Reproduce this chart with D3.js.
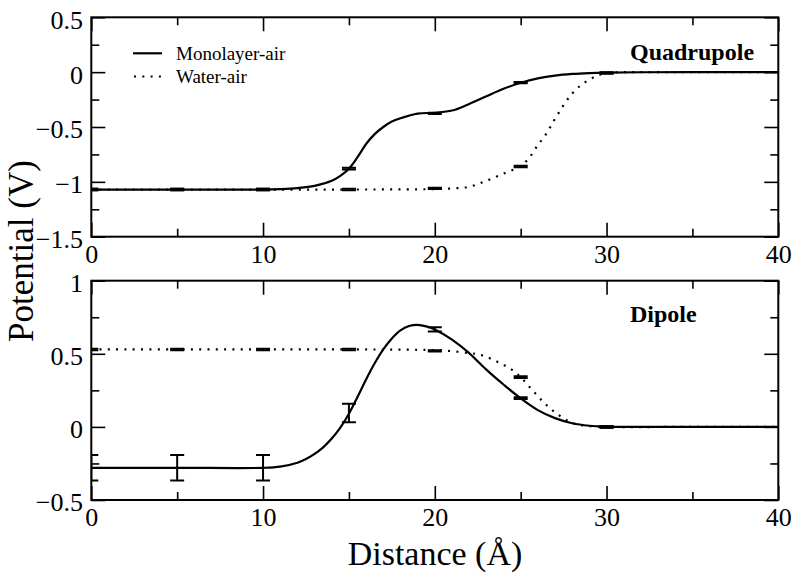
<!DOCTYPE html>
<html><head><meta charset="utf-8">
<script src="https://cdn.jsdelivr.net/npm/d3@7"></script>
<style>body{margin:0;background:#fff}svg{display:block}text{font-family:"Liberation Serif","Times New Roman",serif;fill:#000}</style>
</head><body><svg id="c" width="800" height="580"></svg>
<script>
// ---- data ----
const xTicks = [0, 10, 20, 30, 40];
const quadYTicks = [0.5, 0, -0.5, -1, -1.5];
const dipYTicks = [1, 0.5, 0, -0.5];
const seriesNames = ["Monolayer-air", "Water-air"];
const panelTitles = ["Quadrupole", "Dipole"];

const quadMonoX = [0,5,10,11,12,13,14,14.5,15,15.5,16,16.5,17,17.5,18,19,20,21,22,23,24,25,26,27,28,29,30,32,35,40];
const quadMonoY = [-1.07,-1.07,-1.07,-1.066,-1.057,-1.037,-0.99,-0.945,-0.88,-0.775,-0.655,-0.565,-0.50,-0.45,-0.42,-0.378,-0.37,-0.35,-0.29,-0.22,-0.152,-0.097,-0.057,-0.031,-0.016,-0.008,-0.004,-0.001,0,0];
const quadWaterX = [0,5,10,15,20,21,22,23,24,25,25.5,26,26.5,27,27.5,28,28.5,29,29.5,30,32,35,40];
const quadWaterY = [-1.07,-1.07,-1.07,-1.07,-1.066,-1.06,-1.045,-0.99,-0.925,-0.855,-0.78,-0.665,-0.56,-0.425,-0.30,-0.195,-0.12,-0.068,-0.03,-0.008,0,0,0];

const dipMonoX = [0,5,10,11,12,12.5,13,13.5,14,14.5,15,15.5,16,16.5,17,17.5,18,18.5,19,19.5,20,21,22,23,24,25,26,27,28,29,30,35,40];
const dipMonoY = [-0.28,-0.28,-0.28,-0.272,-0.245,-0.22,-0.185,-0.14,-0.08,-0.005,0.09,0.205,0.325,0.435,0.53,0.605,0.66,0.69,0.698,0.688,0.667,0.597,0.505,0.392,0.29,0.195,0.115,0.06,0.025,0.008,0.002,0,0];
const dipWaterX = [0,5,10,15,20,21,22,22.5,23,23.5,24,24.5,25,25.5,26,26.5,27,27.5,28,28.5,29,30,35,40];
const dipWaterY = [0.53,0.53,0.53,0.53,0.525,0.518,0.505,0.497,0.48,0.453,0.425,0.39,0.34,0.275,0.21,0.15,0.10,0.058,0.027,0.012,0.005,0,0,0];

const errX = [0,5,10,15,20,25,30];
const quadMonoErrY = [-1.07,-1.07,-1.07,-0.88,-0.375,-0.095,-0.005];
const quadMonoErr  = [0.006,0.006,0.006,0.008,0.006,0.006,0.005];
const quadWaterErrY = [-1.07,-1.07,-1.07,-1.07,-1.06,-0.86,-0.01];
const quadWaterErr  = [0.006,0.006,0.006,0.006,0.006,0.006,0.005];
const dipMonoErrY = [-0.28,-0.28,-0.28,0.095,0.667,0.196,0.0];
const dipMonoErr  = [0.087,0.087,0.087,0.063,0.014,0.006,0.005];
const dipWaterErrY = [0.53,0.53,0.53,0.53,0.52,0.34,0.0];
const dipWaterErr  = [0.005,0.005,0.005,0.005,0.005,0.006,0.005];

// ---- drawing ----
const FONT = '"Liberation Serif", "Times New Roman", serif';
const svg = d3.select("#c");
const L = 91.3, R = 778.3;
const x = d3.scaleLinear().domain([0, 40]).range([L, R]);

const panels = [
  {top: 17.3, bottom: 236.7, domain: [-1.5, 0.5], yTicks: quadYTicks, minor: d3.range(-1.5, 0.51, 0.25),
   mono: [quadMonoX, quadMonoY], water: [quadWaterX, quadWaterY],
   monoErr: [quadMonoErrY, quadMonoErr], waterErr: [quadWaterErrY, quadWaterErr],
   title: panelTitles[0], titleY: 60, legend: true},
  {top: 280.7, bottom: 500, domain: [-0.5, 1], yTicks: dipYTicks, minor: d3.range(-0.5, 1.01, 0.25),
   mono: [dipMonoX, dipMonoY], water: [dipWaterX, dipWaterY],
   monoErr: [dipMonoErrY, dipMonoErr], waterErr: [dipWaterErrY, dipWaterErr],
   title: panelTitles[1], titleY: 321.5, legend: false}
];

const minorX = [5, 15, 25, 35];

panels.forEach((p, i) => {
  const y = d3.scaleLinear().domain(p.domain).range([p.bottom, p.top]);
  const g = svg.append("g");
  const clipId = "clip" + i;
  svg.append("clipPath").attr("id", clipId).append("rect")
    .attr("x", L).attr("y", p.top).attr("width", R - L).attr("height", p.bottom - p.top);

  const ax = g.append("g").attr("transform", `translate(0,${p.bottom})`)
    .call(d3.axisBottom(x).tickValues(xTicks).tickSize(-14).tickPadding(8).tickFormat(d3.format("d")));
  ax.attr("font-family", null).attr("font-size", null);
  ax.selectAll("text").style("font-size", "26px").style("font-family", FONT).attr("dy", "0.71em");
  g.append("g").attr("transform", `translate(0,${p.bottom})`)
    .call(d3.axisBottom(x).tickValues(minorX).tickSize(-8).tickFormat(""));
  g.append("g").attr("transform", `translate(0,${p.top})`)
    .call(d3.axisTop(x).tickValues(xTicks).tickSize(-14).tickFormat(""));
  g.append("g").attr("transform", `translate(0,${p.top})`)
    .call(d3.axisTop(x).tickValues(minorX).tickSize(-8).tickFormat(""));

  const ay = g.append("g").attr("transform", `translate(${L},0)`)
    .call(d3.axisLeft(y).tickValues(p.yTicks).tickSize(-14).tickPadding(8).tickFormat(d => d3.format("")(d)));
  ay.attr("font-family", null).attr("font-size", null);
  ay.selectAll("text").style("font-size", "26px").style("font-family", FONT).attr("dy", "0.42em").attr("x", 83 - L);
  const minorY = p.minor.filter(v => !p.yTicks.some(t => Math.abs(t - v) < 1e-6));
  g.append("g").attr("transform", `translate(${L},0)`)
    .call(d3.axisLeft(y).tickValues(minorY).tickSize(-8).tickFormat(""));
  g.append("g").attr("transform", `translate(${R},0)`)
    .call(d3.axisRight(y).tickValues(p.yTicks).tickSize(-14).tickFormat(""));
  g.append("g").attr("transform", `translate(${R},0)`)
    .call(d3.axisRight(y).tickValues(minorY).tickSize(-8).tickFormat(""));

  g.selectAll(".domain").remove();
  g.selectAll(".tick line").attr("stroke", "#000").attr("stroke-width", 1.6);
  g.selectAll(".tick text").attr("fill", "#000");

  const line = d3.line().x(d => x(d[0])).y(d => y(d[1])).curve(d3.curveCatmullRom.alpha(0.5));
  const cg = g.append("g").attr("clip-path", `url(#${clipId})`);
  cg.append("path").datum(d3.zip(p.water[0], p.water[1])).attr("d", line)
    .attr("fill", "none").attr("stroke", "#000").attr("stroke-width", 2.2)
    .attr("stroke-dasharray", "2,6.3");
  cg.append("path").datum(d3.zip(p.mono[0], p.mono[1])).attr("d", line)
    .attr("fill", "none").attr("stroke", "#000").attr("stroke-width", 2.2);

  const drawErr = (ys, es) => {
    const data = d3.zip(errX, ys, es);
    const eg = cg.append("g").attr("stroke", "#000").attr("stroke-width", 2);
    data.forEach(([xv, yv, ev]) => {
      eg.append("line").attr("x1", x(xv)).attr("x2", x(xv)).attr("y1", y(yv - ev)).attr("y2", y(yv + ev));
      [yv - ev, yv + ev].forEach(v => eg.append("line")
        .attr("x1", x(xv) - 7).attr("x2", x(xv) + 7).attr("y1", y(v)).attr("y2", y(v)));
    });
  };
  drawErr(p.waterErr[0], p.waterErr[1]);
  drawErr(p.monoErr[0], p.monoErr[1]);

  g.append("rect").attr("x", L).attr("y", p.top).attr("width", R - L).attr("height", p.bottom - p.top)
    .attr("fill", "none").attr("stroke", "#000").attr("stroke-width", 2);

  g.append("text").attr("x", 630).attr("y", p.titleY).style("font-size", "24px").style("font-weight", "bold")
    .style("font-family", FONT).text(p.title);

  if (p.legend) {
    const lg = g.append("g");
    lg.append("line").attr("x1", 133).attr("x2", 162).attr("y1", 53.3).attr("y2", 53.3)
      .attr("stroke", "#000").attr("stroke-width", 2.2);
    lg.append("line").attr("x1", 134).attr("x2", 162).attr("y1", 76.5).attr("y2", 76.5)
      .attr("stroke", "#000").attr("stroke-width", 2.2).attr("stroke-dasharray", "2,6.3");
    lg.append("text").attr("x", 176).attr("y", 59.5).style("font-size", "19px").style("font-family", FONT).text(seriesNames[0]);
    lg.append("text").attr("x", 176).attr("y", 83).style("font-size", "19px").style("font-family", FONT).text(seriesNames[1]);
  }
});

svg.append("text").attr("transform", "translate(33,251) rotate(-90)").attr("text-anchor", "middle")
  .style("font-size", "35px").style("font-family", FONT).text("Potential (V)");
svg.append("text").attr("x", 435).attr("y", 565).attr("text-anchor", "middle")
  .style("font-size", "34px").style("font-family", FONT).text("Distance (Å)");
</script></body></html>
